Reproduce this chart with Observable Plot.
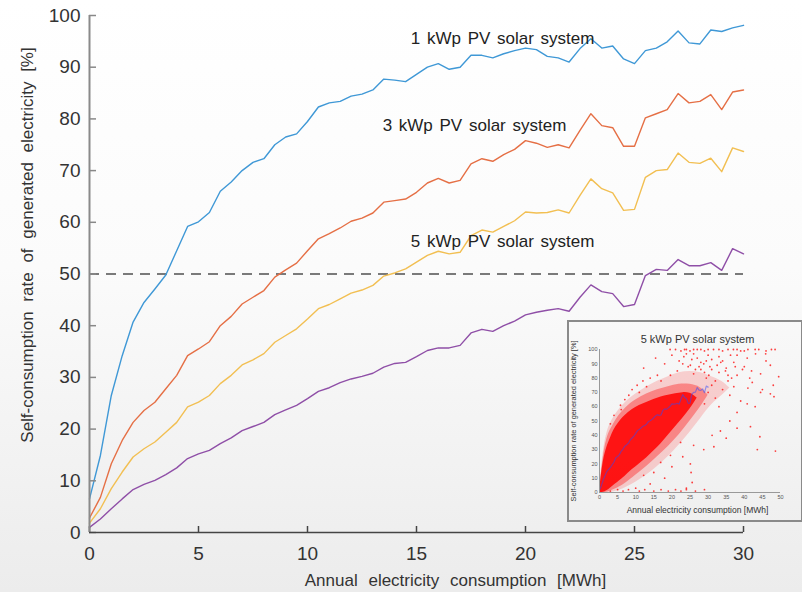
<!DOCTYPE html>
<html><head><meta charset="utf-8">
<script src="https://cdn.jsdelivr.net/npm/d3@7"></script>
<script src="https://cdn.jsdelivr.net/npm/@observablehq/plot@0.6"></script>
<style>
html,body{margin:0;padding:0;}
body{width:802px;height:592px;background:linear-gradient(to bottom,#ffffff 0%,#fbfbfb 45%,#ececec 100%);position:relative;overflow:hidden;font-family:"Liberation Sans",Arial,sans-serif;}
#main{position:absolute;left:0;top:0;}
#inset{position:absolute;left:567px;top:320px;width:236px;height:202px;border:2px solid #8a8a8a;box-sizing:border-box;}
</style></head><body>
<div id="main"></div><div id="inset"></div>
<script>
// ---------- main chart data ----------
const consumption = [0,0.5,1,1.5,2,2.5,3,3.5,4,4.5,5,5.5,6,6.5,7,7.5,8,8.5,9,9.5,10,10.5,11,11.5,12,12.5,13,13.5,14,14.5,15,15.5,16,16.5,17,17.5,18,18.5,19,19.5,20,20.5,21,21.5,22,22.5,23,23.5,24,24.5,25,25.5,26,26.5,27,27.5,28,28.5,29,29.5,30];
const pv1 = [6.5,14.9,26.5,34.2,40.7,44.5,47.1,49.8,54.5,59.2,60.1,61.9,66.0,67.8,70.0,71.6,72.3,75.0,76.5,77.1,79.5,82.3,83.1,83.4,84.4,84.8,85.6,87.7,87.5,87.2,88.6,90.0,90.7,89.6,90.0,92.3,92.3,91.8,92.6,93.2,93.7,93.4,92.1,91.8,91.0,93.6,95.5,93.7,94.1,91.6,90.7,93.2,93.7,94.9,97.0,94.7,94.5,97.2,96.9,97.6,98.1];
const pv3 = [2.8,6.8,13.3,17.8,21.3,23.6,25.2,27.8,30.4,34.2,35.5,36.9,40.0,41.8,44.2,45.5,46.8,49.4,50.8,52.1,54.5,56.8,57.8,58.9,60.2,60.8,61.8,63.9,64.2,64.5,65.8,67.6,68.5,67.6,68.1,71.3,72.3,71.8,73.1,74.1,75.8,75.3,74.5,75.0,74.4,77.8,81.0,78.7,78.3,74.7,74.7,80.2,81.0,81.8,84.9,83.1,83.4,84.7,81.8,85.2,85.6];
const pvMid = [1.8,4.6,8.5,11.7,14.6,16.2,17.5,19.4,21.3,24.3,25.2,26.5,28.8,30.4,32.4,33.4,34.6,36.8,38.1,39.4,41.3,43.3,44.1,45.2,46.3,46.9,47.8,49.6,50.2,51.0,52.3,53.6,54.4,53.9,54.2,57.4,58.5,58.1,59.2,60.3,62.0,61.8,61.9,62.4,61.8,65.2,68.4,66.5,65.7,62.3,62.5,68.7,70.0,70.2,73.4,71.6,71.4,72.4,69.8,74.4,73.7];
const pv5 = [1.0,2.6,4.6,6.5,8.3,9.3,10.1,11.2,12.5,14.3,15.2,15.9,17.2,18.3,19.7,20.5,21.3,22.8,23.7,24.6,25.9,27.3,28.0,29.0,29.7,30.2,30.8,32.0,32.7,32.9,34.0,35.2,35.7,35.7,36.2,38.6,39.3,38.9,40.0,40.9,42.1,42.6,43.0,43.3,42.8,45.5,47.9,46.6,46.2,43.7,44.1,49.7,50.9,50.7,52.8,51.6,51.6,52.2,50.7,54.9,53.9];
const seriesNames = ["1 kWp","3 kWp","mid","5 kWp"];
const seriesColors = ["#3f98d6","#e56f45","#f2bf52","#8f4fa7"];
const xTicks = [0,5,10,15,20,25,30];
const yTicks = [0,10,20,30,40,50,60,70,80,90,100];
const threshold = [50];
const annotations = [
  {label:"1 kWp PV solar system", x:18.95, y:95.6},
  {label:"3 kWp PV solar system", x:17.66, y:78.7},
  {label:"5 kWp PV solar system", x:18.95, y:56.3}
];
const xLabel = "Annual electricity consumption [MWh]";
const yLabel = "Self-consumption rate of generated electricity [%]";

// ---------- inset data ----------
const insetTitle = "5 kWp PV solar system";
const insetXTicks = [0,5,10,15,20,25,30,35,40,45,50];
const insetYTicks = [0,10,20,30,40,50,60,70,80,90,100];
const outerX  = [0,1,2,3,5,7,10,13,16,19,22,25,28,31,34,36];
const outerLo = [0,0,0,0,1,3,7,12,18,25,33,42,52,62,68,73];
const outerHi = [3,30,42,49,57,63,69,74,78,81,84,85,84,81,78,73];
const middleX  = [0,1,2,3,5,7,10,13,16,19,22,25,28,30];
const middleLo = [0,0,0,1,3,6,12,18,25,32,40,50,60,68];
const middleHi = [1,26,38,44,53,59,65,69,72,74,76,76,74,68];
const denseX  = [0,0.5,1,2,3,4,5,7,9,11,13,15,17,19,21,23,25,27];
const denseLo = [0,0,0,1,3,5,7,11,16,20,24,29,34,40,46,52,58,66];
const denseHi = [1,12,22,32,38,44,48,54,58,61,63,65,67,68,69,70,70,66];
const scatterX = [19.5,21,22.5,23.5,24,25,26,27,28,29,30,31.5,33,34,35.5,37,38,40,41,43,44,46,47.5,48.5,
  15.5,12.2,18,19.6,21.5,22,23.3,24.5,25.1,26,27,28,28.8,29.5,30.2,31,32.5,33,34.8,35.5,36.2,37.1,38,39,40,40.8,41.5,42.2,43.1,44.5,45.9,47.2,48,49.5,46,42,38,34,30,26,20,
  37.1,39,40.8,44.5,47.2,48.2,36,34,32,30,33,38,43,45,29,31,
  41.7,44.3,48.6,43.6,31.6,33.4,31.1,36,28.8,26,22.4,38,35,
  3,5,6.5,8,11,12.5,15,17,19,21,22.5,24,26.5,29,
  25.6,25.3,25.1,16.9,19.6,15,12.2,20,23,18,14,10,24,
  10.4,8.1,5.8,4,7,9,12,14,16,11,6,3,13,17,
  27.5,29,31,32,33.5,35,36.5,39.5,41,23,25.5,28,30.5,33,35.5,37.5,24,26.5,29.5];
const scatterY = [100,100,99,100,100,99,100,100,100,99,100,100,100,99,100,100,100,99,100,100,100,99,100,100,
  94,87,90,82,85,92,95,88,89,83,94,86,90,80,82,93,89,84,85,78,96,91,82,99,88,94,80,77,97,83,97,89,75,81,92,85,96,92,96,97,96,
  74,64,62,70,69,67,68,72,66,70,60,56,60,72,62,75,
  46,39,29,30,32,43,40,50,30,33,35,45,38,
  1,2,1,2,1,2,1,2,1,2,1,2,1,2,
  7,14,20,21,26,14,12,18,25,10,6,3,3,
  75,68,61,54,65,72,78,80,82,70,58,48,74,78,
  88,84,86,78,91,87,80,86,73,90,93,91,88,95,82,88,97,86,92];

// ---------- main chart ----------
const series = [pv1,pv3,pvMid,pv5];
const rows = [];
series.forEach((arr,i)=>arr.forEach((v,j)=>rows.push({x:consumption[j], y:v, series:seriesNames[i]})));
const W = 802, H = 592, mL = 89, mR = 59, mT = 15, mB = 60;
const frameW = W - mL - mR, frameH = H - mT - mB;
const font = "'Liberation Sans', Arial, sans-serif";

const main = Plot.plot({
  width: W, height: H,
  marginLeft: mL, marginRight: mR, marginTop: mT, marginBottom: mB,
  x: {domain: [0,30]},
  y: {domain: [0,100]},
  color: {domain: seriesNames, range: seriesColors},
  style: {background: "transparent", fontFamily: font, color: "#333", overflow: "visible"},
  marks: [
    Plot.ruleY(threshold, {stroke: "#7a7a7a", strokeWidth: 2, strokeDasharray: "10,7"}),
    Plot.line(rows, {x: "x", y: "y", z: "series", stroke: "series", strokeWidth: 1.4}),
    Plot.tickY(yTicks, {y: d => d, stroke: "#888", strokeWidth: 1.5, insetRight: frameW - 7}),
    Plot.tickX(xTicks, {x: d => d, stroke: "#444", strokeWidth: 1.5, insetTop: frameH - 6}),
    Plot.ruleX([0], {stroke: "#8a8a8a", strokeWidth: 2}),
    Plot.ruleY([0], {stroke: "#444", strokeWidth: 1.6}),
    Plot.axisY(yTicks, {tickSize: 0, tickPadding: 9, fontSize: 19, label: null}),
    Plot.axisX(xTicks, {tickSize: 0, tickPadding: 14, fontSize: 19, label: null}),
    Plot.text(annotations, {x: "x", y: "y", text: "label", fontSize: 17, fill: "#222"}),
    Plot.text([xLabel], {frameAnchor: "bottom", textAnchor: "middle", lineAnchor: "middle", dx: 39, dy: 48, fontSize: 17, fill: "#333"}),
    Plot.text([yLabel], {frameAnchor: "left", textAnchor: "middle", lineAnchor: "middle", rotate: -90, dx: -62, dy: -29, fontSize: 17, fill: "#333"})
  ]
});
document.getElementById("main").appendChild(main);
d3.select(main).selectAll("text").each(function(){
  const t = this.textContent;
  if (t === xLabel) this.style.wordSpacing = "6px";
  else if (t === yLabel) this.style.wordSpacing = "5px";
  else if (t.includes("solar")) this.style.wordSpacing = "2px";
});

// ---------- inset ----------
const outerRows = outerX.map((x,i)=>({x, lo: outerLo[i], hi: outerHi[i]}));
const middleRows = middleX.map((x,i)=>({x, lo: middleLo[i], hi: middleHi[i]}));
const denseRows = denseX.map((x,i)=>({x, lo: denseLo[i], hi: denseHi[i]}));
const scatterRows = scatterX.map((x,i)=>({x, y: scatterY[i]}));
const midRows = consumption.map((x,i)=>({x, y: pvMid[i]}));
const iW = 232, iH = 198, iL = 30, iR = 21, iT = 27, iB = 28;
const inset = Plot.plot({
  width: iW, height: iH,
  marginLeft: iL, marginRight: iR, marginTop: iT, marginBottom: iB,
  x: {domain: [0,50]},
  y: {domain: [0,100]},
  style: {background: "transparent", fontFamily: font, color: "#555", overflow: "visible"},
  marks: [
    Plot.areaY(outerRows, {x: "x", y1: "lo", y2: "hi", fill: "#ff0000", fillOpacity: 0.16, curve: "basis"}),
    Plot.areaY(middleRows, {x: "x", y1: "lo", y2: "hi", fill: "#ff0000", fillOpacity: 0.35, curve: "basis"}),
    Plot.areaY(denseRows, {x: "x", y1: "lo", y2: "hi", fill: "#ff0000", fillOpacity: 0.85, curve: "basis"}),
    Plot.dot(scatterRows, {x: "x", y: "y", r: 0.9, fill: "#ff0000", fillOpacity: 0.75, stroke: "none"}),
    Plot.line(midRows, {x: "x", y: "y", stroke: "#2a4cff", strokeOpacity: 0.5, strokeWidth: 1.2}),
    Plot.ruleX([0], {stroke: "#999", strokeWidth: 1}),
    Plot.ruleY([0], {stroke: "#999", strokeWidth: 1}),
    Plot.axisY(insetYTicks, {tickSize: 0, tickPadding: 2, fontSize: 5.5, label: null}),
    Plot.axisX(insetXTicks, {tickSize: 0, tickPadding: 3, fontSize: 5.5, label: null}),
    Plot.text([insetTitle], {frameAnchor: "top", textAnchor: "middle", lineAnchor: "middle", dx: 7.5, dy: -10, fontSize: 11, fill: "#333"}),
    Plot.text([xLabel], {frameAnchor: "bottom", textAnchor: "middle", lineAnchor: "middle", dx: 7.5, dy: 18, fontSize: 8.5, fill: "#333"}),
    Plot.text([yLabel], {frameAnchor: "left", textAnchor: "middle", lineAnchor: "middle", rotate: -90, dx: -25.5, dy: 0, fontSize: 7.4, fill: "#333"})
  ]
});
document.getElementById("inset").appendChild(inset);
</script>
</body></html>
